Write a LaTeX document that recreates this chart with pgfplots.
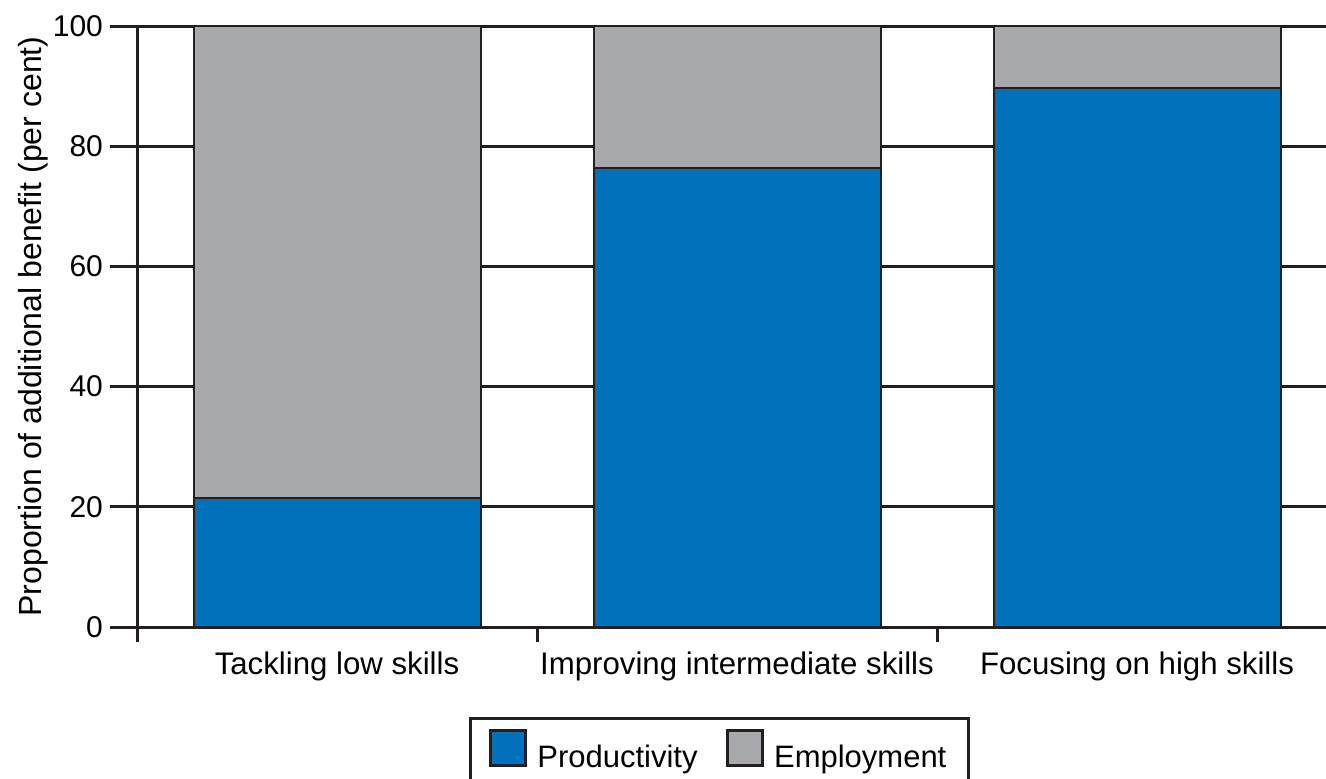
\documentclass[border=0pt]{standalone}
\usepackage{pgfplots}
\pgfplotsset{compat=1.18}
\usepackage{fontspec}
\setmainfont{Liberation Sans}
\definecolor{prodblue}{HTML}{0071BA}
\definecolor{empgray}{HTML}{A7A9AC}
\definecolor{inkblack}{HTML}{231F20}
\begin{document}
\begin{tikzpicture}[font=\fontsize{15}{18}\selectfont]
\begin{axis}[
  scale only axis,
  width=594.5pt, height=300.5pt,
  xmin=-0.5, xmax=2.4725,
  ymin=0, ymax=100,
  axis x line=bottom, axis y line=left,
  axis line style={inkblack, line width=1.5pt, -},
  ytick={0,20,40,60,80,100},
  ymajorgrids,
  grid style={inkblack, line width=1.5pt},
  tick align=outside,
  major tick length=13.5pt,
  tick style={inkblack, line width=1.5pt},
  xtick={0,1,2},
  xticklabels={Tackling low skills,Improving intermediate skills,Focusing on high skills},
  xtick style={draw=none},
  x tick label style={yshift=4.5pt, font=\fontsize{15.6}{18}\selectfont},
  extra x ticks={-0.5,0.5,1.5},
  extra x tick labels={},
  extra x tick style={major tick length=7.5pt, grid=none, xtick style={draw=inkblack, line width=1.5pt}},
  yticklabel style={xshift=0pt},
  /pgf/number format/assume math mode=true,
  ylabel={Proportion of additional benefit (per cent)},
  ylabel style={at={(axis description cs:-0.0875,0.5)}, anchor=center, font=\fontsize{16}{18}\selectfont},
  ybar stacked,
  bar width=143.5pt,
  legend style={at={(0.490,-0.1498)}, anchor=north, legend columns=2,
    draw=inkblack, line width=1.5pt, inner xsep=9pt, inner ysep=5pt,
    font=\fontsize{15.5}{18}\selectfont,
    /tikz/every even column/.append style={column sep=12pt}},
  legend image code/.code={\draw[#1, line width=1.5pt] (0pt,-3.5pt) rectangle (17.5pt,14pt); \path (21pt,0pt);},
]
\addplot[fill=prodblue, draw=inkblack, line width=1pt] coordinates {(0,21.5) (1,76.4) (2,89.7)};
\addplot[fill=empgray, draw=inkblack, line width=1pt] coordinates {(0,78.5) (1,23.6) (2,10.3)};
\legend{Productivity,Employment}
\coordinate (bl) at (rel axis cs:0,0);
\end{axis}
\pgfresetboundingbox
\useasboundingbox ([shift={(-68.5pt,-75.5pt)}]bl) rectangle ([shift={(594.5pt,313.5pt)}]bl);
\end{tikzpicture}
\end{document}
